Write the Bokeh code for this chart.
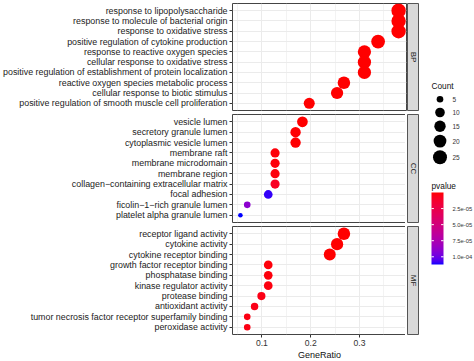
import math
import numpy as np
from bokeh.plotting import figure
from bokeh.models import (FactorRange, Range1d, LinearColorMapper, FixedTicker,
                          Label, ColumnDataSource)
from bokeh.layouts import row, column
from bokeh.core.properties import value
from bokeh.embed import file_html
from bokeh.resources import INLINE

# ---------------- data ----------------
bp_terms = ["response to lipopolysaccharide",
            "response to molecule of bacterial origin",
            "response to oxidative stress",
            "positive regulation of cytokine production",
            "response to reactive oxygen species",
            "cellular response to oxidative stress",
            "positive regulation of establishment of protein localization",
            "reactive oxygen species metabolic process",
            "cellular response to biotic stimulus",
            "positive regulation of smooth muscle cell proliferation"]
bp_ratio = [0.380, 0.380, 0.380, 0.338, 0.310, 0.310, 0.310, 0.268, 0.254, 0.197]
bp_count = [27, 27, 27, 24, 22, 22, 22, 19, 18, 14]
bp_pvalue = [1.2e-14, 3.5e-14, 8.1e-13, 2.4e-12, 5.6e-11, 7.9e-11, 1.3e-10, 2.2e-09, 4.1e-09, 6.7e-08]

cc_terms = ["vesicle lumen",
            "secretory granule lumen",
            "cytoplasmic vesicle lumen",
            "membrane raft",
            "membrane microdomain",
            "membrane region",
            "collagen\u2212containing extracellular matrix",
            "focal adhesion",
            "ficolin\u22121\u2212rich granule lumen",
            "platelet alpha granule lumen"]
cc_ratio = [0.183, 0.169, 0.169, 0.127, 0.127, 0.127, 0.127, 0.113, 0.070, 0.056]
cc_count = [13, 12, 12, 9, 9, 9, 9, 8, 5, 4]
cc_pvalue = [2.1e-08, 4.6e-07, 4.6e-07, 1.8e-06, 1.8e-06, 2.5e-06, 8.5e-06, 1.09e-04, 9.0e-05, 1.12e-04]

mf_terms = ["receptor ligand activity",
            "cytokine activity",
            "cytokine receptor binding",
            "growth factor receptor binding",
            "phosphatase binding",
            "kinase regulator activity",
            "protease binding",
            "antioxidant activity",
            "tumor necrosis factor receptor superfamily binding",
            "peroxidase activity"]
mf_ratio = [0.268, 0.254, 0.239, 0.113, 0.113, 0.113, 0.099, 0.085, 0.070, 0.070]
mf_count = [19, 18, 17, 8, 8, 8, 7, 6, 5, 5]
mf_pvalue = [1.1e-12, 3.2e-12, 5.3e-11, 2.1e-06, 2.3e-06, 3.0e-06, 4.4e-06, 5.2e-06, 3.8e-06, 4.1e-06]

panel_names = ["BP", "CC", "MF"]
x_ticks = [0.1, 0.2, 0.3]
x_minor = [0.05, 0.15, 0.25, 0.35]
count_breaks = [5, 10, 15, 20, 25]
p_breaks = [2.5e-05, 5.0e-05, 7.5e-05, 1.0e-04]

# ---------------- scales ----------------
all_ratio = bp_ratio + cc_ratio + mf_ratio
all_count = bp_count + cc_count + mf_count
all_p = bp_pvalue + cc_pvalue + mf_pvalue
cmin, cmax = min(all_count), max(all_count)
pmin, pmax = min(all_p), max(all_p)

def size_of(c):
    # area-like size scale (as ggplot's scale_size)
    return 4.6 + 9.8 * math.sqrt((c - cmin) / (cmax - cmin))

def _srgb_to_lab(rgb):
    c = np.array(rgb, dtype=float) / 255.0
    lin = np.where(c <= 0.04045, c / 12.92, ((c + 0.055) / 1.055) ** 2.4)
    M = np.array([[0.4124564, 0.3575761, 0.1804375],
                  [0.2126729, 0.7151522, 0.0721750],
                  [0.0193339, 0.1191920, 0.9503041]])
    X, Y, Z = M @ lin
    d = 6 / 29
    f = lambda t: t ** (1 / 3) if t > d ** 3 else t / (3 * d * d) + 4 / 29
    fx, fy, fz = f(X / 0.95047), f(Y / 1.0), f(Z / 1.08883)
    return np.array([116 * fy - 16, 500 * (fx - fy), 200 * (fy - fz)])

def _lab_to_hex(lab):
    L, a, b = lab
    d = 6 / 29
    fy = (L + 16) / 116
    fx = fy + a / 500
    fz = fy - b / 200
    finv = lambda t: t ** 3 if t > d else 3 * d * d * (t - 4 / 29)
    X, Y, Z = 0.95047 * finv(fx), finv(fy), 1.08883 * finv(fz)
    Minv = np.array([[3.2404542, -1.5371385, -0.4985314],
                     [-0.9692660, 1.8760108, 0.0415560],
                     [0.0556434, -0.2040259, 1.0572252]])
    lin = Minv @ np.array([X, Y, Z])
    srgb = np.where(lin <= 0.0031308, 12.92 * lin, 1.055 * np.abs(lin) ** (1 / 2.4) - 0.055)
    srgb = np.clip(srgb, 0, 1)
    return "#%02x%02x%02x" % tuple(int(round(v * 255)) for v in srgb)

lab_lo = _srgb_to_lab((255, 0, 0))
lab_hi = _srgb_to_lab((0, 0, 255))
palette = [_lab_to_hex(lab_lo + (lab_hi - lab_lo) * t) for t in np.linspace(0, 1, 256)]
mapper = LinearColorMapper(palette=palette, low=pmin, high=pmax)

span = max(all_ratio) - min(all_ratio)
x_range = Range1d(min(all_ratio) - 0.05 * span, max(all_ratio) + 0.05 * span)

FONT = "Liberation Sans"
LEFT = 230
FRAME_W = 174
STRIP_W = 12
TOPS = [3, 0, 0]
HEIGHTS = [107, 108, 108]
BOTTOMS = [4, 4, 27]
TOTAL_H = 361

def make_panel(terms, ratio, count, pvalue, k):
    bottom = (k == 2)
    src = ColumnDataSource(dict(term=terms, ratio=ratio, count=count, pvalue=pvalue,
                                size=[size_of(c) for c in count]))
    yr = FactorRange(factors=list(reversed(terms)), range_padding=0.2,
                     range_padding_units="absolute")
    p = figure(x_range=x_range, y_range=yr, frame_width=FRAME_W, frame_height=HEIGHTS[k],
               output_backend="svg", toolbar_location=None,
               x_axis_location="below" if bottom else None)
    p.min_border_left = LEFT
    p.min_border_right = 1
    p.min_border_top = TOPS[k]
    p.min_border_bottom = BOTTOMS[k]
    p.outline_line_color = "#444444"
    p.outline_line_width = 1
    p.xgrid.ticker = FixedTicker(ticks=x_ticks, minor_ticks=x_minor)
    p.xgrid.grid_line_color = "#EBEBEB"
    p.xgrid.minor_grid_line_color = "#EBEBEB"
    p.xgrid.minor_grid_line_width = 0.6
    p.ygrid.grid_line_color = "#EBEBEB"
    yax = p.yaxis[0]
    yax.axis_line_color = None
    yax.major_tick_out = 3
    yax.major_tick_in = 0
    yax.major_tick_line_color = "#333333"
    yax.major_label_text_font = FONT
    yax.major_label_text_font_size = "8.9px"
    yax.major_label_text_color = "#222222"
    yax.major_label_standoff = 2
    if bottom:
        xax = p.xaxis[0]
        xax.ticker = FixedTicker(ticks=x_ticks, minor_ticks=[])
        xax.axis_line_color = None
        xax.major_tick_out = 3
        xax.major_tick_in = 0
        xax.minor_tick_out = 0
        xax.minor_tick_in = 0
        xax.major_tick_line_color = "#333333"
        xax.major_label_text_font = FONT
        xax.major_label_text_font_size = "8.6px"
        xax.major_label_text_color = "#333333"
        xax.major_label_standoff = 2
        xax.axis_label = "GeneRatio"
        xax.axis_label_text_font = FONT
        xax.axis_label_text_font_size = "9px"
        xax.axis_label_text_font_style = "normal"
        xax.axis_label_text_color = "#111111"
        xax.axis_label_standoff = 1
    p.scatter(x="ratio", y="term", size="size", source=src,
              fill_color={"field": "pvalue", "transform": mapper}, line_color=None)
    return p

def make_strip(name, k):
    s = figure(x_range=Range1d(0, 1), y_range=Range1d(0, 1), frame_width=STRIP_W,
               frame_height=HEIGHTS[k], output_backend="svg", toolbar_location=None,
               x_axis_location=None, y_axis_location=None)
    s.min_border_left = 0
    s.min_border_right = 0
    s.min_border_top = TOPS[k]
    s.min_border_bottom = BOTTOMS[k]
    s.grid.visible = False
    s.background_fill_color = "#D9D9D9"
    s.outline_line_color = "#555555"
    s.add_layout(Label(x=0.5, y=0.5, text=name, angle=-math.pi / 2, text_align="center",
                       text_baseline="middle", text_font=FONT, text_font_size="8px",
                       text_color="#1a1a1a"))
    return s

panels = [make_panel(bp_terms, bp_ratio, bp_count, bp_pvalue, 0),
          make_panel(cc_terms, cc_ratio, cc_count, cc_pvalue, 1),
          make_panel(mf_terms, mf_ratio, mf_count, mf_pvalue, 2)]
strips = [make_strip(panel_names[k], k) for k in range(3)]

# ---------------- legends (one figure; y measured in px from the top) ----------------
LEG_W = 57
lg = figure(x_range=Range1d(0, LEG_W), y_range=Range1d(TOTAL_H, 0), width=LEG_W,
            height=TOTAL_H, output_backend="svg", toolbar_location=None,
            x_axis_location=None, y_axis_location=None, min_border=0)
lg.grid.visible = False
lg.outline_line_color = None

# size legend
key_sizes = [size_of(c) for c in count_breaks]
key_h = [max(13.3, d + 2.8) for d in key_sizes]
key_y = [98.7]
for i in range(1, len(count_breaks)):
    key_y.append(key_y[-1] + (key_h[i - 1] + key_h[i]) / 2)
lg.text(x=[12], y=[85.3], text=["Count"], text_font=value(FONT), text_font_size="8.3px",
        text_baseline="middle", text_color="#111111")
lg.scatter(x=[20.5] * len(count_breaks), y=key_y, size=key_sizes, fill_color="black",
           line_color=None)
lg.text(x=[33] * len(count_breaks), y=key_y, text=[str(c) for c in count_breaks],
        text_font=value(FONT), text_font_size="6.5px", text_baseline="middle",
        text_color="#333333")

# colour bar on its own p-value scale (small p at the top)
BAR_TOP, BAR_LEN, BAR_X, BAR_W = 192, 72, 12, 12
s_px = (pmax - pmin) / BAR_LEN
lg.extra_y_ranges = {"p": Range1d(start=pmin + (TOTAL_H - BAR_TOP) * s_px,
                                  end=pmin - BAR_TOP * s_px)}
lg.text(x=[BAR_X], y=[185.3], text=["pvalue"], text_font=value(FONT), text_font_size="8.3px",
        text_baseline="middle", text_color="#111111")
grad = np.linspace(pmin, pmax, 256).reshape(256, 1)
lg.image(image=[grad], x=BAR_X, y=pmin, dw=BAR_W, dh=pmax - pmin, color_mapper=mapper,
         y_range_name="p")
tick_len = BAR_W / 5
lg.segment(x0=[BAR_X] * len(p_breaks), x1=[BAR_X + tick_len] * len(p_breaks),
           y0=p_breaks, y1=p_breaks, line_color="white", line_width=1, y_range_name="p")
lg.segment(x0=[BAR_X + BAR_W - tick_len] * len(p_breaks), x1=[BAR_X + BAR_W] * len(p_breaks),
           y0=p_breaks, y1=p_breaks, line_color="white", line_width=1, y_range_name="p")
lg.text(x=[33] * len(p_breaks), y=p_breaks, text=["%.1e" % v for v in p_breaks],
        text_font=value(FONT), text_font_size="5.8px", text_baseline="middle",
        text_color="#333333", y_range_name="p")

layout = row(column(*panels), column(*strips), lg)
open("out.html", "w").write(file_html(layout, INLINE))
